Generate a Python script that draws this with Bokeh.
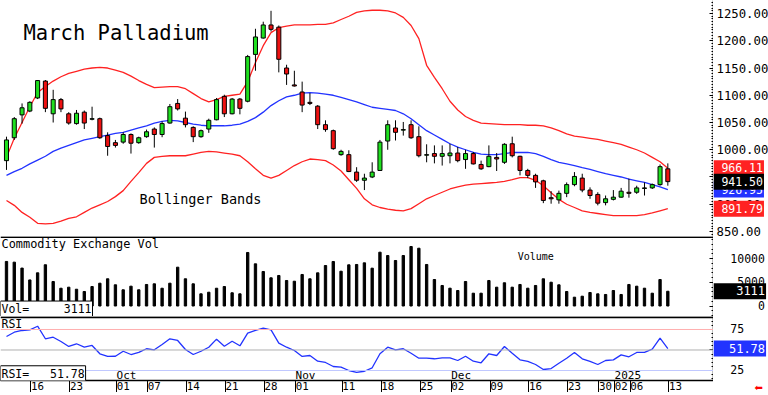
from bokeh.plotting import figure
from bokeh.models import Range1d, Span, Label, FixedTicker
from bokeh.layouts import column, row
from bokeh.embed import file_html
from bokeh.resources import INLINE
from bokeh.core.properties import value

# ---------------- data ----------------
opens = [980, 1022, 1064, 1071, 1095, 1126, 1066, 1092, 1066, 1048,
         1069, 1056, 1057, 1026, 1013, 1014, 1028, 1013, 1024, 1038,
         1028, 1049, 1085, 1058, 1041, 1024, 1038, 1055, 1098, 1066,
         1093, 1089, 1175, 1205, 1229, 1225, 1150, 1119, 1106, 1087,
         1080, 1046, 1035, 991, 991, 959, 944, 950, 962, 1016,
         1040, 1036, 1046, 1024, 990, 993, 988, 989, 994, 982,
         993, 973, 969, 986, 977, 1011, 988, 962, 953, 943,
         912, 908, 920, 936, 948, 926, 918, 903, 909, 913,
         922, 922, 929, 930, 936, 965]
highs = [1024, 1060, 1085, 1089, 1128, 1128, 1110, 1095, 1069, 1073,
         1072, 1079, 1059, 1032, 1018, 1032, 1030, 1024, 1037, 1041,
         1052, 1084, 1093, 1070, 1043, 1037, 1057, 1095, 1101, 1095,
         1095, 1174, 1222, 1235, 1255, 1228, 1156, 1145, 1125, 1104,
         1082, 1054, 1037, 1000, 999, 968, 956, 977, 1018, 1054,
         1054, 1051, 1054, 1043, 1010, 1008, 1008, 1011, 1005, 1000,
         996, 980, 1008, 994, 1012, 1024, 989, 965, 956, 945,
         924, 925, 940, 959, 956, 931, 922, 916, 926, 930,
         947, 934, 940, 938, 973, 975]
lows = [963, 1018, 1048, 1069, 1093, 1069, 1050, 1069, 1046, 1046,
        1038, 1054, 1020, 989, 1004, 1011, 993, 1011, 1022, 1004,
        1023, 1048, 1072, 1041, 1014, 1022, 1031, 1054, 1060, 1065,
        1065, 1087, 1145, 1204, 1217, 1142, 1119, 1116, 1069, 1082,
        1038, 1033, 1000, 989, 959, 941, 926, 948, 961, 1000,
        1017, 1026, 1020, 986, 977, 975, 971, 975, 977, 965,
        973, 963, 968, 961, 974, 986, 953, 948, 930, 902,
        901, 901, 913, 933, 922, 910, 898, 898, 907, 912,
        912, 919, 916, 928, 934, 934]
closes = [1018, 1057, 1077, 1087, 1127, 1076, 1092, 1075, 1049, 1067,
          1049, 1057, 1022, 1006, 1008, 1028, 1012, 1022, 1033, 1028,
          1048, 1079, 1075, 1046, 1024, 1035, 1054, 1092, 1066, 1093,
          1076, 1171, 1207, 1229, 1221, 1166, 1139, 1117, 1082, 1085,
          1046, 1037, 1002, 997, 960, 944, 948, 959, 1014, 1046,
          1032, 1037, 1022, 989, 991, 988, 993, 994, 980, 993,
          974, 965, 988, 983, 1010, 989, 962, 953, 941, 907,
          910, 920, 936, 951, 926, 916, 902, 910, 913, 924,
          920, 930, 930, 936, 969, 941.5]

bb_upper = [986, 1021, 1050, 1079, 1105, 1116, 1126, 1134, 1140, 1144,
            1148, 1150, 1151, 1150, 1146, 1142, 1135, 1127, 1120, 1114,
            1115, 1116, 1116, 1112, 1103, 1094, 1088, 1092, 1098, 1100,
            1102, 1125, 1160, 1191, 1215, 1224, 1227, 1229, 1229, 1229,
            1230, 1230, 1233, 1239, 1245, 1252, 1255, 1256, 1256, 1255,
            1251, 1243, 1228, 1204, 1155, 1133, 1112, 1089, 1073, 1061,
            1054, 1049, 1048, 1047, 1046, 1046, 1046, 1045, 1045, 1044,
            1040, 1035, 1029, 1025, 1023, 1021, 1019, 1016, 1013, 1010,
            1005, 1000, 994, 986, 978, 966.11]
bb_middle = [953, 960, 966, 974, 981, 988, 997, 1003, 1008, 1013,
             1018, 1021, 1024, 1027, 1030, 1032, 1036, 1040, 1044, 1049,
             1052, 1054, 1053, 1050, 1047, 1045, 1044, 1044, 1044, 1045,
             1047, 1052, 1059, 1069, 1081, 1090, 1097, 1100, 1104, 1105,
             1104, 1102, 1100, 1096, 1092, 1088, 1083, 1078, 1076, 1074,
             1072, 1066, 1057, 1046, 1035, 1027, 1019, 1011, 1005, 1000,
             995, 992, 991, 991, 993, 995, 995, 995, 993, 988,
             982, 977, 974, 971, 967, 964, 960, 956, 953, 950,
             946, 943, 940, 936, 932, 926.95]
bb_lower = [907, 898, 885, 876, 865, 864, 865, 869, 874, 877,
            885, 893, 899, 905, 914, 925, 942, 958, 975, 986,
            988, 989, 989, 989, 992, 995, 997, 996, 994, 992,
            989, 978, 965, 953, 948, 953, 962, 971, 978, 983,
            982, 980, 972, 961, 945, 929, 910, 899, 894, 891,
            889, 888, 892, 901, 910, 916, 922, 928, 932, 935,
            937, 938, 939, 940, 942, 945, 949, 949, 944, 934,
            921, 909, 900, 894, 888, 885, 883, 881, 879, 879,
            879, 879, 881, 884, 888, 891.79]

volumes = [9400, 9250, 8000, 5500, 7000, 8700, 5170, 3750, 3970, 3540,
           3060, 4110, 4810, 5740, 4470, 3420, 4180, 3420, 4540, 4680,
           3750, 4810, 8190, 5740, 4680, 2570, 2910, 3750, 4110, 2790,
           2570, 11290, 8900, 7280, 5950, 6440, 5380, 5230, 6650, 5740,
           7000, 8540, 9390, 7340, 8690, 8760, 9110, 7980, 11350, 10650,
           9600, 10650, 12550, 12190, 8760, 5590, 4330, 3760, 3270, 5170,
           2700, 2700, 5380, 3970, 4900, 3970, 4540, 3760, 4330, 5740,
           5020, 4470, 3060, 1860, 2070, 2850, 2570, 2430, 3270, 2430,
           4540, 4180, 3760, 2700, 5590, 3111]

rsi = [66.5, 71.7, 73.8, 74.6, 79.0, 63.7, 65.6, 60.4, 54.3, 57.6,
       53.4, 55.5, 45.4, 42.1, 42.4, 48.5, 44.5, 47.0, 51.5, 50.2,
       56.7, 63.7, 61.6, 50.6, 44.5, 48.5, 53.4, 63.2, 54.6, 60.7,
       55.1, 70.5, 73.8, 76.6, 74.6, 58.3, 53.4, 49.4, 42.1, 43.3,
       36.3, 34.8, 29.9, 29.0, 25.0, 22.6, 24.1, 28.3, 45.4, 53.4,
       50.2, 51.5, 46.1, 40.0, 40.0, 39.3, 40.5, 40.5, 37.2, 42.4,
       36.3, 34.4, 45.4, 43.3, 54.3, 46.1, 38.0, 36.0, 32.3, 26.2,
       27.4, 33.9, 40.0, 47.0, 39.3, 36.0, 32.3, 37.2, 38.0, 44.1,
       41.7, 47.0, 47.0, 51.0, 64.4, 51.78]

day_index = [3, 8, 14, 18, 23, 28, 33, 37, 43, 48, 53, 57, 62, 67, 72, 76, 78, 80, 85]
day_labels = ["16", "23", "01", "07", "14", "21", "28", "01", "11", "18",
              "25", "02", "09", "16", "23", "30", "02", "06", "13"]
month_index = [14, 37, 57, 78]
month_labels = ["Oct", "Nov", "Dec", "2025"]

price_ticks = [850, 900, 950, 1000, 1050, 1100, 1150, 1200, 1250]
vol_ticks = [0, 5000, 10000]
vol_tick_labels = ["0", "5000", "10000"]
rsi_ticks = [25, 50, 75]
rsi_label_ticks = [25, 75]

# ---------------- styling ----------------
MONO = "DejaVu Sans Mono"
GREEN = "#1fe01f"
RED = "#ee1111"
BAND_RED = "#ff2222"
BLUE = "#2233ff"
NB = "\u00a0"

FRAME_W = 713
SIDE_W = 55
XR = Range1d(-0.77, 90.87)

n = len(closes)
idx = list(range(n))
body_top = [max(o, c) for o, c in zip(opens, closes)]
body_bot = [min(o, c) for o, c in zip(opens, closes)]
body_col = [GREEN if c >= o else RED for o, c in zip(opens, closes)]


def make_fig(h, yr, xaxis=False):
    p = figure(frame_width=FRAME_W, frame_height=h, x_range=XR, y_range=yr,
               output_backend="svg", toolbar_location=None,
               y_axis_location="right",
               x_axis_location="below" if xaxis else None,
               min_border_left=0, min_border_right=0,
               min_border_top=0, min_border_bottom=0,
               background_fill_color="white", border_fill_color="white")
    p.grid.visible = False
    p.outline_line_color = None
    return p


def make_side(h, yr):
    s = figure(frame_width=SIDE_W, frame_height=h, x_range=Range1d(0, SIDE_W), y_range=yr,
               output_backend="svg", toolbar_location=None,
               x_axis_location=None, y_axis_location=None,
               min_border_left=0, min_border_right=0,
               min_border_top=0, min_border_bottom=0,
               background_fill_color="white", border_fill_color="white")
    s.grid.visible = False
    s.outline_line_color = None
    return s


def style_y(p, ticker):
    ax = p.yaxis[0]
    ax.ticker = ticker
    ax.major_label_overrides = {t: "" for t in ticker.ticks}
    ax.major_label_text_font_size = "0px"
    ax.major_label_standoff = 0
    ax.axis_line_color = "black"
    ax.axis_line_width = 1.5
    ax.major_tick_in = 4
    ax.major_tick_out = 0
    ax.minor_tick_in = 2
    ax.minor_tick_out = 0
    ax.major_tick_line_color = "black"
    ax.minor_tick_line_color = "black"


def tick_texts(s, ys, labels, fs):
    s.text(x=[3] * len(ys), y=ys, text=labels, text_font=value(MONO), text_font_size=fs,
           text_align="left", text_baseline="middle", text_color="black")


def value_box(s, y, text, color, fs="11.5px"):
    s.add_layout(Label(x=0, y=y, text=text, text_font=MONO, text_font_size=fs,
                       text_color="white", text_align="left", text_baseline="middle",
                       background_fill_color=color, padding=1))


# ---------------- main price panel ----------------
P_LO, P_HI = 840.8, 1273.9
P_PX = (P_HI - P_LO) / 236.0
p1 = make_fig(236, Range1d(P_LO, P_HI))
style_y(p1, FixedTicker(ticks=price_ticks, minor_ticks=list(range(845, 1275, 5))))

p1.line(idx, bb_upper, line_color=BAND_RED, line_width=1.3)
p1.line(idx, bb_lower, line_color=BAND_RED, line_width=1.3)
p1.line(idx, bb_middle, line_color=BLUE, line_width=1.3)
p1.segment(x0=idx, y0=lows, x1=idx, y1=highs, line_color="black", line_width=1)
p1.vbar(x=idx, width=0.52, top=body_top, bottom=body_bot, fill_color=body_col,
        line_color="black", line_width=1)

p1.add_layout(Label(x=2.19, y=1215, text="March Palladium", text_font=MONO,
                    text_font_size="20.5px", text_color="black", text_baseline="middle"))
p1.add_layout(Label(x=17.1, y=909, text="Bollinger Bands", text_font=MONO,
                    text_font_size="13.5px", text_color="black", text_baseline="middle"))

# side strip for the price axis labels (a little taller so 850.00 is not cut)
s1 = make_side(240, Range1d(P_LO - 4 * P_PX, P_HI))
tick_texts(s1, price_ticks, [f"{t:.2f}" for t in price_ticks], "12.3px")
value_box(s1, bb_upper[-1], NB + f"{bb_upper[-1]:.2f}", BAND_RED)
value_box(s1, bb_middle[-1], NB + f"{bb_middle[-1]:.2f}", BLUE)
value_box(s1, bb_lower[-1], NB + f"{bb_lower[-1]:.2f}", BAND_RED)
value_box(s1, closes[-1], NB + f"{closes[-1]:.2f}", "black")

# ---------------- volume panel ----------------
VOL_LO, VOL_HI = -2215, 14662
VOL_PX = (VOL_HI - VOL_LO) / 80.0
p2 = make_fig(80, Range1d(VOL_LO, VOL_HI))
style_y(p2, FixedTicker(ticks=vol_ticks, minor_ticks=list(range(-2000, 15000, 1000))))
p2.add_layout(Span(location=VOL_HI - 150, dimension="width", line_color="black", line_width=1.8))
p2.vbar(x=idx, width=0.3, top=volumes, bottom=0, fill_color="black", line_color="black")
p2.add_layout(Label(x=-0.64, y=12975, text="Commodity Exchange Vol", text_font=MONO,
                    text_font_size="11.9px", text_color="black", text_baseline="middle"))
p2.add_layout(Label(x=65.7, y=10443, text="Volume", text_font=MONO,
                    text_font_size="10px", text_color="black", text_baseline="middle"))
p2.add_layout(Label(x=-0.77, y=-640, text="Vol=" + NB * 5 + str(volumes[-1]), text_font=MONO,
                    text_font_size="11.5px", text_color="black", text_baseline="middle",
                    background_fill_color="white", border_line_color="black", padding=1))

s2 = make_side(76, Range1d(VOL_LO, VOL_HI - 4 * VOL_PX))
tick_texts(s2, vol_ticks, [NB * (7 - len(t)) + t for t in vol_tick_labels], "11.5px")
value_box(s2, volumes[-1], NB * 3 + str(volumes[-1]), "black", "12px")

# ---------------- RSI panel ----------------
RSI_LO, RSI_HI = 12.8, 90.85
RSI_PX = (RSI_HI - RSI_LO) / 64.0
p3 = make_fig(64, Range1d(RSI_LO, RSI_HI), xaxis=True)
style_y(p3, FixedTicker(ticks=rsi_ticks, minor_ticks=list(range(15, 90, 5))))
p3.add_layout(Span(location=RSI_HI - 0.9, dimension="width", line_color="black", line_width=1.8))
p3.add_layout(Span(location=75, dimension="width", line_color="#ffb0b0", line_width=1))
p3.add_layout(Span(location=50, dimension="width", line_color="#b0b0b0", line_width=1))
p3.add_layout(Span(location=25, dimension="width", line_color="#c0c8ff", line_width=1))
p3.line(idx, rsi, line_color=BLUE, line_width=1.3)

p3.text(x=[m + 0.15 for m in month_index], y=[19.5] * len(month_index), text=month_labels,
        text_font=value(MONO), text_font_size="11px", text_align="left",
        text_baseline="middle", text_color="black")

p3.add_layout(Label(x=-0.64, y=82, text="RSI", text_font=MONO, text_font_size="11.5px",
                    text_color="black", text_baseline="middle"))
p3.add_layout(Label(x=-0.77, y=21, text="RSI=" + NB * 3 + f"{rsi[-1]:.2f}", text_font=MONO,
                    text_font_size="11.5px", text_color="black", text_baseline="middle",
                    background_fill_color="white", border_line_color="black", padding=1))

xa = p3.xaxis[0]
xa.ticker = FixedTicker(ticks=[d + 1 for d in day_index], minor_ticks=[d + 0.15 for d in day_index])
xa.major_label_overrides = {d + 1: lab for d, lab in zip(day_index, day_labels)}
xa.axis_line_color = "black"
xa.axis_line_width = 1.5
xa.major_tick_in = 0
xa.major_tick_out = 0
xa.minor_tick_in = 0
xa.minor_tick_out = 14
xa.minor_tick_line_color = "black"
xa.major_label_text_font = MONO
xa.major_label_text_font_size = "10.8px"
xa.major_label_text_color = "black"
xa.major_label_standoff = -13

s3 = make_side(79, Range1d(RSI_LO - 15 * RSI_PX, RSI_HI))
tick_texts(s3, rsi_label_ticks, [NB * 2 + str(t) for t in rsi_label_ticks], "11.5px")
value_box(s3, rsi[-1], NB * 2 + f"{rsi[-1]:.2f}", BLUE, "12px")
s3.add_layout(Label(x=41, y=4.0, text="\u2b05", text_font="DejaVu Sans",
                    text_font_size="10px", text_color="red", text_baseline="middle"))

layout = row(column(p1, p2, p3, spacing=0), column(s1, s2, s3, spacing=0), spacing=0)
open("out.html", "w").write(file_html(layout, INLINE))
